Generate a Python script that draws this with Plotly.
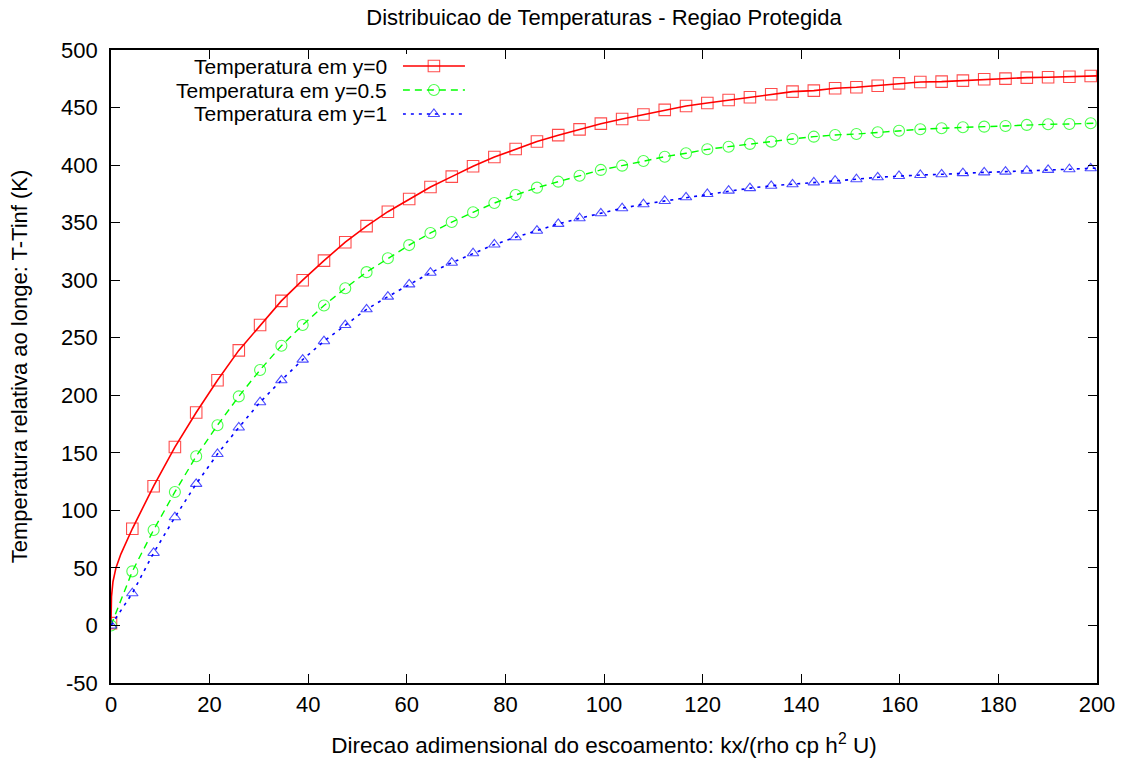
import plotly.graph_objects as go

# ---- data ----
x_marks = [0, 4.32, 8.64, 12.96, 17.28, 21.6, 25.92, 30.24, 34.56, 38.88, 43.2, 47.52,
           51.84, 56.16, 60.48, 64.8, 69.12, 73.44, 77.76, 82.08, 86.4, 90.72, 95.04,
           99.36, 103.68, 108.0, 112.32, 116.64, 120.96, 125.28, 129.6, 133.92, 138.24,
           142.56, 146.88, 151.2, 155.52, 159.84, 164.16, 168.48, 172.8, 177.12, 181.44,
           185.76, 190.08, 194.4, 198.72]

temp_y0 = [2, 84, 121, 155, 185, 213, 239, 261, 282, 300, 317, 333, 347, 359.5, 370.5,
           381, 390, 399, 407, 414, 420.5, 426, 431, 436, 440, 444, 448, 451.4, 454,
           456.5, 459, 461.5, 463.8, 464.7, 466.8, 467.6, 469, 471, 472.2, 472.5, 473.4,
           474.6, 475.1, 476, 476.3, 476.8, 477.4]
temp_y05 = [0, 47, 83, 116, 147, 174, 199, 222, 243, 261, 278, 293, 307, 319, 330.5, 341,
            350.5, 359, 367, 374, 380.4, 385.6, 390.8, 395.8, 399.5, 403.6, 407.3, 410.3,
            413.7, 416, 418.4, 420.4, 422.7, 424.7, 426.2, 427, 428.5, 429.9, 431.1, 432,
            432.9, 433.4, 434, 434.9, 435.5, 435.7, 436.3]
temp_y1 = [0, 28, 63, 94, 123, 149, 172, 194, 213, 231, 247, 261, 274.7, 285.7, 296.4,
           306.5, 315.2, 323.4, 331, 337.3, 343, 348.9, 353.8, 358.1, 362.5, 366, 368.8,
           372, 374.9, 377.8, 380, 382, 383.3, 385, 386.5, 387.7, 389.4, 390.5, 391.4, 392,
           393, 393.7, 394.3, 395.2, 395.8, 396.4, 397.2]

# extra (unmarked) line points: steep start of y=0 curve and the curve ends at x=200
x_fine_y0 = [0.02, 0.1, 0.4, 1.0, 2.0]
fine_y0 = [15, 25, 38, 50, 62]
x_end = 200
end_y0, end_y05, end_y1 = 477.5, 436.5, 397.3

labels = ["Temperatura em y=0", "Temperatura em y=0.5", "Temperatura em y=1"]
colors = ["#ff0000", "#00ff00", "#0000ff"]

x_tickvals = [0, 20, 40, 60, 80, 100, 120, 140, 160, 180, 200]
x_ticktext = ["0", "20", "40", "60", "80", "100", "120", "140", "160", "180", "200"]
y_tickvals = [-50, 0, 50, 100, 150, 200, 250, 300, 350, 400, 450, 500]
y_ticktext = ["-50", "0", "50", "100", "150", "200", "250", "300", "350", "400", "450", "500"]

# legend key sample (line with a marker in the middle), one row per series
key_x = [0, 0.5, 1]
key_rows = [2, 1, 0]


def build(xm, ym, xf, yf, ye, msize):
    pts = [(a, b, msize) for a, b in zip(xm, ym)] + [(a, b, 0) for a, b in zip(xf, yf)]
    pts.append((x_end, ye, 0))
    pts.sort(key=lambda p: p[0])
    return [p[0] for p in pts], [p[1] for p in pts], [p[2] for p in pts]


fig = go.Figure()

styles = [
    ("square-open", 11.5, "solid", 1.6),
    ("circle-open", 11, "7px,5px", 1.4),
    ("triangle-up-open", 10, "3px,5px", 1.6),
]
data = [(temp_y0, x_fine_y0, fine_y0, end_y0),
        (temp_y05, [], [], end_y05),
        (temp_y1, [], [], end_y1)]

for (ym, xf, yf, ye), (sym, ms, dash, lw), name, col, row in zip(data, styles, labels, colors, key_rows):
    xs, ys, sz = build(x_marks, ym, xf, yf, ye, ms)
    fig.add_trace(go.Scatter(
        x=xs, y=ys, mode="lines+markers", name=name, showlegend=False,
        line=dict(color=col, width=lw, dash=dash),
        marker=dict(symbol=sym, size=sz, color=col, line=dict(color=col, width=1.1)),
    ))
    # legend key drawn on a small hidden axis pair
    fig.add_trace(go.Scatter(
        x=key_x, y=[row] * len(key_x), mode="lines+markers", name=name, showlegend=False,
        xaxis="x2", yaxis="y2", hoverinfo="skip",
        line=dict(color=col, width=lw, dash=dash),
        marker=dict(symbol=sym, size=[0, ms, 0], color=col, line=dict(color=col, width=1.1)),
    ))

FONT = "Liberation Sans, Arial, sans-serif"
FS = 22
FS_LEG = 21

# legend text (right-aligned, left of the samples as in the reference)
row_y = [0.9747, 0.9368, 0.8989]
for lab, yy in zip(labels, row_y):
    fig.add_annotation(text=lab, xref="paper", yref="paper", x=0.281, y=yy,
                       xanchor="right", yanchor="middle", showarrow=False, borderpad=0,
                       font=dict(family=FONT, size=FS_LEG, color="black"))

axis_common = dict(
    showgrid=False, zeroline=False, showline=True, linecolor="black", linewidth=1.8,
    mirror="allticks", ticks="inside", ticklen=9, tickwidth=1.2, tickcolor="black",
    tickfont=dict(family=FONT, size=FS, color="black"), automargin=False,
)

fig.update_layout(
    width=1125, height=758,
    paper_bgcolor="white", plot_bgcolor="white",
    margin=dict(l=111, r=28, t=50, b=75, autoexpand=False),
    title=dict(text="Distribuicao de Temperaturas - Regiao Protegida",
               x=0.5, xref="paper", xanchor="center", y=1 - 17 / 758, yref="container",
               yanchor="middle",
               font=dict(family=FONT, size=FS, color="black")),
    xaxis=dict(range=[0, 200], tickmode="array", tickvals=x_tickvals, ticktext=x_ticktext,
               ticklabelstandoff=1,
               title=dict(text="Direcao adimensional do escoamento: kx/(rho cp h<sup>2</sup> U)",
                          font=dict(family=FONT, size=22.5, color="black"), standoff=21),
               **axis_common),
    yaxis=dict(range=[-50, 500], tickmode="array", tickvals=y_tickvals, ticktext=y_ticktext,
               ticklabelstandoff=7,
               title=dict(text="Temperatura relativa ao longe: T-Tinf (K)",
                          font=dict(family=FONT, size=FS, color="black"), standoff=27),
               **axis_common),
    xaxis2=dict(domain=[0.296, 0.359], range=[0, 1], anchor="y2", visible=False,
                fixedrange=True),
    yaxis2=dict(domain=[0.8799, 0.9937], range=[-0.5, 2.5], anchor="x2", visible=False,
                fixedrange=True),
    showlegend=False,
)

fig.write_html("out.html", config={"displayModeBar": False},
               post_script="document.body.style.margin='0';")
